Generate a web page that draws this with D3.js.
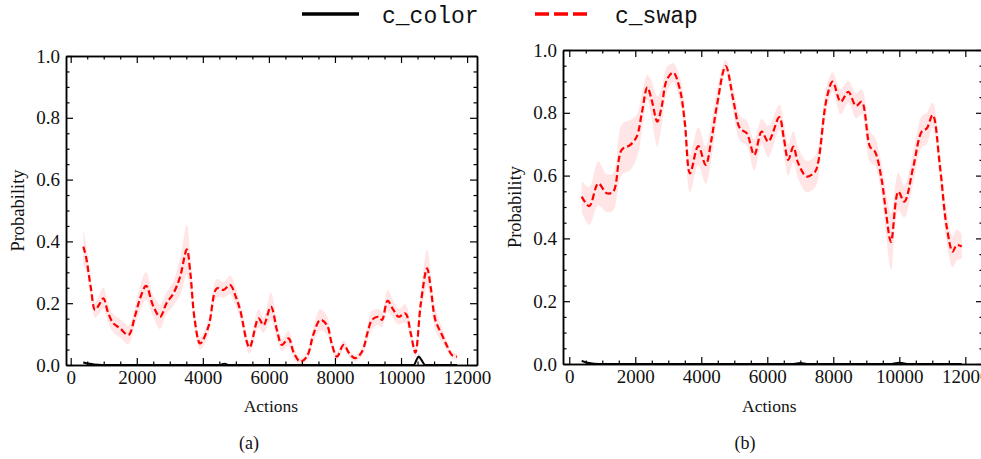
<!DOCTYPE html>
<html>
<head>
<meta charset="utf-8">
<script src="https://cdn.jsdelivr.net/npm/d3@7"></script>
<style>
  html, body { margin: 0; padding: 0; background: #fff; }
  svg { display: block; }
  text { font-family: "Liberation Serif", "Times New Roman", serif; fill: #111; }
</style>
</head>
<body>
<svg id="chart" width="981" height="459"></svg>
<script>
// ---------------- DATA ----------------
const seriesNames = ["c_color", "c_swap"];
const xTickValues = [0, 2000, 4000, 6000, 8000, 10000, 12000];
const yTickValues = [0.0, 0.2, 0.4, 0.6, 0.8, 1.0];
const panelLabels = ["(a)", "(b)"];

// Panel (a)
const aSwapX = [382, 464, 615, 736, 860, 988, 1130, 1291, 1494, 1747, 1950, 2100, 2282, 2500, 2706, 2900, 3111, 3313, 3515, 3620, 3750, 3918, 4170, 4424, 4626, 4827, 5000, 5130, 5413, 5686, 5838, 6061, 6250, 6394, 6596, 6750, 6948, 7150, 7350, 7555, 7758, 7900, 8060, 8262, 8450, 8615, 8818, 9000, 9121, 9323, 9424, 9594, 9760, 9928, 10130, 10300, 10433, 10600, 10788, 10900, 11039, 11242, 11400, 11545, 11697];
const aSwapMean = [0.383, 0.35, 0.246, 0.178, 0.195, 0.216, 0.17, 0.135, 0.119, 0.097, 0.16, 0.215, 0.256, 0.19, 0.156, 0.2, 0.232, 0.286, 0.374, 0.3, 0.15, 0.070, 0.124, 0.248, 0.243, 0.259, 0.22, 0.178, 0.057, 0.151, 0.129, 0.189, 0.11, 0.065, 0.086, 0.04, 0.011, 0.027, 0.1, 0.146, 0.129, 0.07, 0.027, 0.065, 0.035, 0.022, 0.043, 0.11, 0.146, 0.156, 0.146, 0.208, 0.18, 0.156, 0.167, 0.1, 0.040, 0.2, 0.313, 0.25, 0.146, 0.097, 0.06, 0.032, 0.027];
const aSwapSpread = [0.055, 0.045, 0.03, 0.025, 0.03, 0.035, 0.03, 0.03, 0.03, 0.03, 0.03, 0.04, 0.045, 0.035, 0.04, 0.035, 0.04, 0.06, 0.08, 0.06, 0.03, 0.02, 0.025, 0.03, 0.025, 0.03, 0.03, 0.025, 0.02, 0.03, 0.025, 0.045, 0.03, 0.02, 0.025, 0.02, 0.012, 0.015, 0.025, 0.035, 0.03, 0.02, 0.012, 0.015, 0.012, 0.01, 0.015, 0.025, 0.03, 0.025, 0.025, 0.035, 0.03, 0.025, 0.03, 0.025, 0.015, 0.04, 0.06, 0.045, 0.035, 0.025, 0.015, 0.01, 0.01];
const aColorX = [382, 700, 1200, 2000, 3000, 4000, 4500, 4650, 4800, 5500, 6500, 7500, 8500, 9500, 10200, 10380, 10533, 10736, 11000, 11697];
const aColorMean = [0.008, 0.002, 0.0, 0.0, 0.0, 0.0, 0.0, 0.004, 0.0, 0.0, 0.0, 0.0, 0.0, 0.0, 0.0, 0.0, 0.027, 0.0, 0.0, 0.0];
const aColorSpread = [0.005, 0.002, 0, 0, 0, 0, 0, 0.003, 0, 0, 0, 0, 0, 0, 0, 0.002, 0.012, 0.002, 0, 0];

// Panel (b)
const bSwapX = [376, 606, 879, 1133, 1333, 1588, 1839, 2042, 2200, 2364, 2500, 2667, 2800, 2952, 3152, 3355, 3500, 3658, 3909, 4133, 4300, 4467, 4739, 4970, 5173, 5376, 5606, 5830, 6030, 6364, 6500, 6636, 6788, 6939, 7194, 7445, 7545, 7800, 7982, 8224, 8455, 8688, 8861, 9112, 9264, 9467, 9600, 9748, 9970, 10152, 10424, 10679, 10830, 11012, 11233, 11436, 11618, 11739, 11891];
const bSwapMean = [0.533, 0.503, 0.575, 0.544, 0.549, 0.682, 0.697, 0.724, 0.8, 0.881, 0.84, 0.772, 0.82, 0.904, 0.928, 0.873, 0.77, 0.607, 0.694, 0.634, 0.71, 0.819, 0.949, 0.841, 0.750, 0.735, 0.666, 0.740, 0.708, 0.786, 0.72, 0.650, 0.692, 0.639, 0.597, 0.612, 0.644, 0.846, 0.899, 0.835, 0.867, 0.822, 0.835, 0.692, 0.676, 0.586, 0.48, 0.389, 0.549, 0.517, 0.628, 0.740, 0.750, 0.793, 0.628, 0.437, 0.358, 0.379, 0.374];
const bSwapSpread = [0.05, 0.06, 0.07, 0.06, 0.06, 0.08, 0.08, 0.07, 0.06, 0.04, 0.06, 0.08, 0.06, 0.04, 0.03, 0.04, 0.05, 0.06, 0.06, 0.06, 0.06, 0.05, 0.02, 0.04, 0.04, 0.04, 0.05, 0.04, 0.05, 0.04, 0.05, 0.05, 0.05, 0.05, 0.05, 0.05, 0.05, 0.04, 0.03, 0.04, 0.035, 0.04, 0.04, 0.05, 0.045, 0.05, 0.07, 0.09, 0.06, 0.05, 0.05, 0.05, 0.05, 0.04, 0.05, 0.05, 0.05, 0.05, 0.04];
const bColorX = [376, 600, 900, 1500, 3000, 4500, 6000, 6800, 7000, 7200, 8500, 9700, 10000, 10300, 11000, 11891];
const bColorMean = [0.01, 0.003, 0.0, 0.0, 0.0, 0.0, 0.0, 0.0, 0.003, 0.0, 0.0, 0.0, 0.004, 0.0, 0.0, 0.0];
const bColorSpread = [0.005, 0.002, 0, 0, 0, 0, 0, 0, 0.002, 0, 0, 0, 0.002, 0, 0, 0];

// ---------------- DRAW ----------------
const svg = d3.select("#chart");
const FONT = 17.5;
const TICK_FONT = 19;

const panels = [
  { key: "a", x0: 66, x1: 477, y0: 56, y1: 365, xDom: [-142, 12300],
    swap: { x: aSwapX, m: aSwapMean, s: aSwapSpread },
    color: { x: aColorX, m: aColorMean, s: aColorSpread },
    ylabX: 18, label: panelLabels[0], labelX: 249 },
  { key: "b", x0: 563, x1: 983, y0: 50, y1: 364, xDom: [-190, 12536],
    swap: { x: bSwapX, m: bSwapMean, s: bSwapSpread },
    color: { x: bColorX, m: bColorMean, s: bColorSpread },
    ylabX: 515, label: panelLabels[1], labelX: 745 }
];

panels.forEach(p => {
  const x = d3.scaleLinear().domain(p.xDom).range([p.x0, p.x1]);
  const y = d3.scaleLinear().domain([0, 1]).range([p.y1, p.y0]);

  const clipId = "clip-" + p.key;
  svg.append("clipPath").attr("id", clipId)
    .append("rect").attr("x", p.x0).attr("y", p.y0)
    .attr("width", p.x1 - p.x0).attr("height", p.y1 - p.y0);

  const g = svg.append("g").attr("clip-path", `url(#${clipId})`);

  function drawSeries(ser, color, dashed, curve) {
    const pts = ser.x.map((v, i) => ({ x: v, m: ser.m[i], s: ser.s[i] }));
    const area = d3.area().curve(curve)
      .x(d => x(d.x)).y0(d => y(d.m - d.s)).y1(d => y(d.m + d.s));
    g.append("path").datum(pts).attr("d", area)
      .attr("fill", color).attr("fill-opacity", 0.1).attr("stroke", "none");
    const line = d3.line().curve(curve).x(d => x(d.x)).y(d => y(d.m));
    g.append("path").datum(pts).attr("d", line)
      .attr("fill", "none").attr("stroke", color)
      .attr("stroke-width", dashed ? 2.2 : 2)
      .attr("stroke-dasharray", dashed ? "6.5,3.2" : null);
  }
  drawSeries(p.color, "#000000", false, d3.curveMonotoneX);
  drawSeries(p.swap, "#ff0000", true, d3.curveCatmullRom.alpha(0.5));

  const xMinor = d3.range(0, 12600, 500).filter(v => v % 2000 !== 0 && v >= p.xDom[0] && v <= p.xDom[1]);
  const yMinor = d3.range(0, 1.0001, 0.05).map(v => +v.toFixed(2)).filter(v => Math.round(v * 100) % 20 !== 0);
  const fmtY = d3.format(".1f");

  function styleAxis(sel) {
    sel.selectAll(".domain").attr("stroke", "#000").attr("stroke-width", 1.5);
    sel.selectAll(".tick line").attr("stroke", "#000").attr("stroke-width", 1.2);
    sel.selectAll("text").style("font-family", "'Liberation Serif', serif")
      .style("font-size", TICK_FONT + "px").attr("fill", "#111");
  }

  // bottom
  svg.append("g").attr("transform", `translate(0,${p.y1})`)
    .call(d3.axisBottom(x).tickValues(xTickValues).tickFormat(d3.format("d"))
      .tickSizeInner(-7).tickSizeOuter(0).tickPadding(6)).call(styleAxis);
  svg.append("g").attr("transform", `translate(0,${p.y1})`)
    .call(d3.axisBottom(x).tickValues(xMinor).tickFormat("")
      .tickSizeInner(-3.5).tickSizeOuter(0)).call(styleAxis);
  // top
  svg.append("g").attr("transform", `translate(0,${p.y0})`)
    .call(d3.axisTop(x).tickValues(xTickValues).tickFormat("")
      .tickSizeInner(-7).tickSizeOuter(0)).call(styleAxis);
  svg.append("g").attr("transform", `translate(0,${p.y0})`)
    .call(d3.axisTop(x).tickValues(xMinor).tickFormat("")
      .tickSizeInner(-3.5).tickSizeOuter(0)).call(styleAxis);
  // left
  svg.append("g").attr("transform", `translate(${p.x0},0)`)
    .call(d3.axisLeft(y).tickValues(yTickValues).tickFormat(fmtY)
      .tickSizeInner(-7).tickSizeOuter(0).tickPadding(6)).call(styleAxis);
  svg.append("g").attr("transform", `translate(${p.x0},0)`)
    .call(d3.axisLeft(y).tickValues(yMinor).tickFormat("")
      .tickSizeInner(-3.5).tickSizeOuter(0)).call(styleAxis);
  // right
  svg.append("g").attr("transform", `translate(${p.x1},0)`)
    .call(d3.axisRight(y).tickValues(yTickValues).tickFormat("")
      .tickSizeInner(-7).tickSizeOuter(0)).call(styleAxis);
  svg.append("g").attr("transform", `translate(${p.x1},0)`)
    .call(d3.axisRight(y).tickValues(yMinor).tickFormat("")
      .tickSizeInner(-3.5).tickSizeOuter(0)).call(styleAxis);

  // axis labels
  const plotCx = (x(0) + x(12000)) / 2 + 2;
  svg.append("text").attr("x", plotCx).attr("y", 412)
    .attr("text-anchor", "middle").style("font-size", FONT + "px").text("Actions");
  svg.append("text")
    .attr("transform", `translate(${p.ylabX + 6},${(p.y0 + p.y1) / 2}) rotate(-90)`)
    .attr("text-anchor", "middle").style("font-size", "18.5px").text("Probability");
  svg.append("text").attr("x", p.labelX).attr("y", 449)
    .attr("text-anchor", "middle").style("font-size", "18px").text(p.label);
});

// legend
const legend = svg.append("g");
const legendItems = [
  { name: seriesNames[0], color: "#000", dash: null, x: 302 },
  { name: seriesNames[1], color: "#ff0000", dash: "14,5", x: 535 }
];
legendItems.forEach(it => {
  legend.append("line").attr("x1", it.x).attr("x2", it.x + 57)
    .attr("y1", 14).attr("y2", 14).attr("stroke", it.color)
    .attr("stroke-width", 3.5).attr("stroke-dasharray", it.dash);
  legend.append("text").attr("x", it.x + 80).attr("y", 23)
    .style("font-family", "'Liberation Mono', 'DejaVu Sans Mono', monospace")
    .style("font-size", "23px").attr("fill", "#111").text(it.name);
});
</script>
</body>
</html>
